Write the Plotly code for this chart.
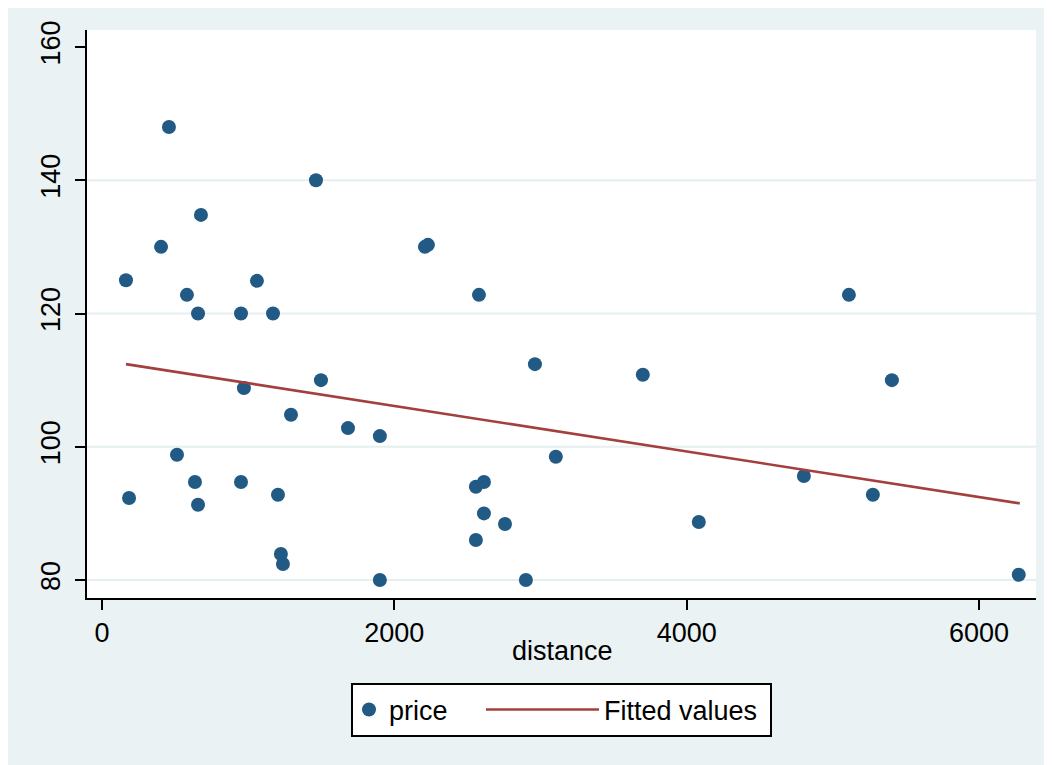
import plotly.graph_objects as go

# ---- data ----
distance = [164, 185, 404, 458, 513, 581, 636, 657, 657, 677,
            951, 951, 971, 1060, 1170, 1204, 1224, 1238, 1293, 1464,
            1498, 1683, 1901, 1901, 2209, 2230, 2558, 2579, 2613, 2558,
            2613, 2757, 2900, 2962, 3105, 3700, 4083, 4802, 5110, 5274,
            5404, 6272]
price = [125, 92.3, 130, 148, 98.8, 122.8, 94.7, 120, 91.3, 134.8,
         120, 94.7, 108.8, 124.9, 120, 92.8, 83.9, 82.4, 104.8, 140,
         110, 102.8, 101.6, 80, 130, 130.3, 94, 122.8, 94.7, 86,
         90, 88.4, 80, 112.4, 98.5, 110.8, 88.7, 95.6, 122.8, 92.8,
         110, 80.8]
fit_x = [164, 6279]
fit_y = [112.4, 91.5]

x_ticks = [0, 2000, 4000, 6000]
y_ticks = [80, 100, 120, 140, 160]
y_grid = [80, 100, 120, 140]

# ---- layout geometry (pixels, page coordinates; page body has 8px margin) ----
OFF = 8
W, H = 1052 - OFF, 765 - OFF
L, R, T, B = 87 - OFF, 16, 30 - OFF, 765 - 598


def px_x(p):
    return (p - OFF - L) / (W - L - R)


def px_y(p):
    return (H - B - (p - OFF)) / (H - T - B)


FONT = "Liberation Sans, Arial, Helvetica, sans-serif"
FS = 27
BG = "#eaf2f3"
GRID = "#e6efef"
NAVY = "#215a84"
MAROON = "#a3403f"

fig = go.Figure()
fig.add_trace(go.Scatter(
    x=distance, y=price, mode="markers", name="price",
    marker=dict(color=NAVY, size=14, line=dict(width=0)),
    legend="legend",
))
fig.add_trace(go.Scatter(
    x=fit_x, y=fit_y, mode="lines", name="Fitted values",
    line=dict(color=MAROON, width=2.6),
    legend="legend2",
))

shapes = [
    dict(type="line", xref="paper", yref="y", layer="below",
         x0=0, x1=1, y0=g, y1=g, line=dict(color=GRID, width=2))
    for g in y_grid
]
shapes.append(
    # legend box
    dict(type="rect", xref="paper", yref="paper", layer="above",
         x0=px_x(352), x1=px_x(771), y0=px_y(684), y1=px_y(736),
         fillcolor="white", line=dict(color="black", width=2))
)

fig.update_layout(
    width=W, height=H,
    margin=dict(l=L, r=R, t=T, b=B),
    paper_bgcolor=BG,
    plot_bgcolor="white",
    font=dict(family=FONT, size=FS, color="black"),
    shapes=shapes,
    annotations=[dict(
        text="distance", xref="paper", yref="paper",
        x=px_x(562), y=px_y(651), xanchor="center", yanchor="middle",
        showarrow=False, font=dict(size=FS, family=FONT, color="black"),
    )],
    showlegend=True,
    legend=dict(
        orientation="h", x=px_x(349), xanchor="left",
        y=px_y(710), yanchor="middle",
        bgcolor="rgba(0,0,0,0)", borderwidth=0,
        itemwidth=30, font=dict(size=FS, family=FONT),
    ),
    legend2=dict(
        orientation="h", x=px_x(481), xanchor="left",
        y=px_y(710), yanchor="middle",
        bgcolor="rgba(0,0,0,0)", borderwidth=0,
        itemwidth=113, font=dict(size=FS, family=FONT),
    ),
    xaxis=dict(
        range=[-102.6, 6390],
        tickvals=x_ticks, ticktext=[str(v) for v in x_ticks],
        ticks="outside", ticklen=10, tickwidth=2, tickcolor="black",
        showline=True, linecolor="black", linewidth=2,
        showgrid=False, zeroline=False,
        tickfont=dict(size=FS),
    ),
    yaxis=dict(
        range=[77.3, 162.55],
        tickvals=y_ticks, ticktext=[str(v) for v in y_ticks],
        tickangle=-90, ticklabelstandoff=4,
        ticks="outside", ticklen=10, tickwidth=2, tickcolor="black",
        showline=True, linecolor="black", linewidth=2,
        showgrid=False, zeroline=False,
        tickfont=dict(size=FS),
    ),
)

fig.write_html("out.html")
